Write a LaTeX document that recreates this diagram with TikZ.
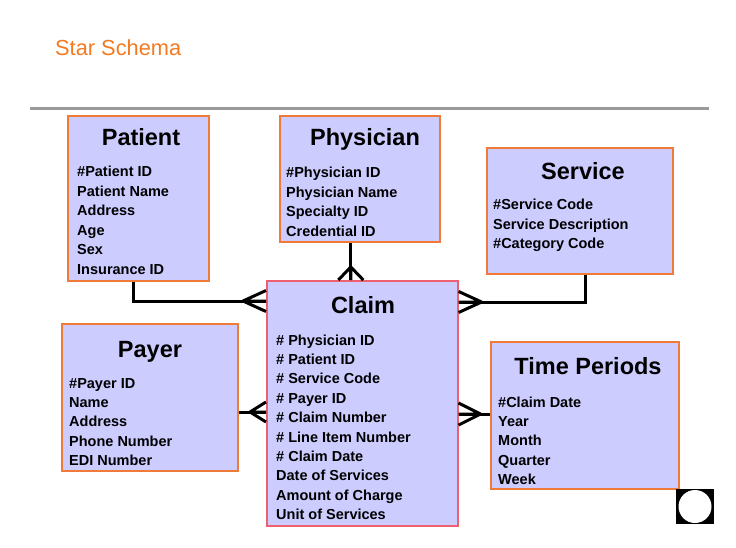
\documentclass[tikz,border=0pt]{standalone}
\usepackage{fontspec}
\setmainfont{Liberation Sans}
\usetikzlibrary{calc}

\definecolor{boxfill}{HTML}{CCCCFF}
\definecolor{boxline}{HTML}{F07A38}
\definecolor{factline}{HTML}{EE6070}
\definecolor{headcol}{HTML}{F47A20}
\definecolor{rulegray}{HTML}{9A9A9A}

\begin{document}
\begin{tikzpicture}[x=1pt, y=-1pt]
	\tikzset{entity/.style = {rectangle, draw=boxline, fill=boxfill, line width=1.6pt, anchor=north west, inner sep=0pt},
		heading/.style = {anchor=base, inner sep=0pt, font=\bfseries\fontsize{23.5}{26}\selectfont},
		attr/.style = {anchor=base west, inner sep=0pt, font=\bfseries\fontsize{14.5}{17}\selectfont},
		link/.style = {line width=3pt, black},
		pics/crowsfoot/.style 2 args = {code = {\draw[link] (-#1,0) -- (0,-#2) (-#1,0) -- (0,0) (-#1,0) -- (0,#2);}}}
	\useasboundingbox (0,0) rectangle (736,548);
	\node[anchor=base west, inner sep=0pt, text=headcol, font=\fontsize{21.8}{25}\selectfont] (title) at (55,55.5) {Star Schema};
	\draw[rulegray, line width=3pt] (30,109) -- (709,109);
	% dimension tables
	\node[entity, minimum width=141, minimum height=165] (patient) at (67,115) {};
	\node[heading] (patient-h) at (141,146) {Patient};
	\foreach \a [count=\i] in {\#Patient ID, Patient Name, Address, Age, Sex, Insurance ID}{
		\node[attr] (patient-\i) at (77,157.6+19.4*\i) {\a};
	}
	\node[entity, minimum width=160, minimum height=126] (physician) at (279,115) {};
	\node[heading] (physician-h) at (365,146) {Physician};
	\foreach \a [count=\i] in {\#Physician ID, Physician Name, Specialty ID, Credential ID}{
		\node[attr] (physician-\i) at (286,158.6+19.4*\i) {\a};
	}
	\node[entity, minimum width=186, minimum height=126] (service) at (486,147) {};
	\node[heading] (service-h) at (583,180) {Service};
	\foreach \a [count=\i] in {\#Service Code, Service Description, \#Category Code}{
		\node[attr] (service-\i) at (493,190.6+19.4*\i) {\a};
	}
	\node[entity, minimum width=176, minimum height=147] (payer) at (61,323) {};
	\node[heading] (payer-h) at (150,357) {Payer};
	\foreach \a [count=\i] in {\#Payer ID, Name, Address, Phone Number, EDI Number}{
		\node[attr] (payer-\i) at (69,368.6+19.4*\i) {\a};
	}
	\node[entity, minimum width=188, minimum height=147] (time) at (490,341) {};
	\node[heading] (time-h) at (588,374) {Time Periods};
	\foreach \a [count=\i] in {\#Claim Date, Year, Month, Quarter, Week}{
		\node[attr] (time-\i) at (498,387.6+19.4*\i) {\a};
	}
	% fact table
	\node[entity, draw=factline, minimum width=191, minimum height=245] (claim) at (266,280) {};
	\node[heading] (claim-h) at (363,313) {Claim};
	\foreach \a [count=\i] in {\# Physician ID, \# Patient ID, \# Service Code, \# Payer ID, \# Claim Number,
		\# Line Item Number, \# Claim Date, Date of Services, Amount of Charge, Unit of Services}{
		\node[attr] (claim-\i) at (276,325.6+19.4*\i) {\a};
	}
	% links
	\path ([yshift=-132pt]claim.north west) coordinate (claim-w);
	\path ([yshift=-134pt]claim.north east) coordinate (claim-e);
	\draw[link] ([xshift=-4.5pt]patient.south) |- ([yshift=-21pt]claim.north west);
	\path ([yshift=-21pt]claim.north west) pic {crowsfoot={23}{10.5}};
	\draw[link] ([xshift=-11.5pt]claim.north) -- ([xshift=-11.5pt]claim.north |- physician.south);
	\path ([xshift=-11.5pt]claim.north) pic[rotate=-90] {crowsfoot={13}{12.5}};
	\draw[link] ([xshift=6pt]service.south) |- ([yshift=-22pt]claim.north east);
	\path ([yshift=-22pt]claim.north east) pic[rotate=180] {crowsfoot={23}{10.5}};
	\draw[link] (payer.east |- claim-w) -- (claim-w);
	\path (claim-w) pic {crowsfoot={16}{10}};
	\draw[link] (time.west |- claim-e) -- (claim-e);
	\path (claim-e) pic[rotate=180] {crowsfoot={22}{11}};
	% button
	\node[fill=black, minimum width=38, minimum height=35, inner sep=0pt] (button) at (695,506.5) {};
	\fill[white] (button.center) circle (16.5pt);
\end{tikzpicture}
\end{document}
